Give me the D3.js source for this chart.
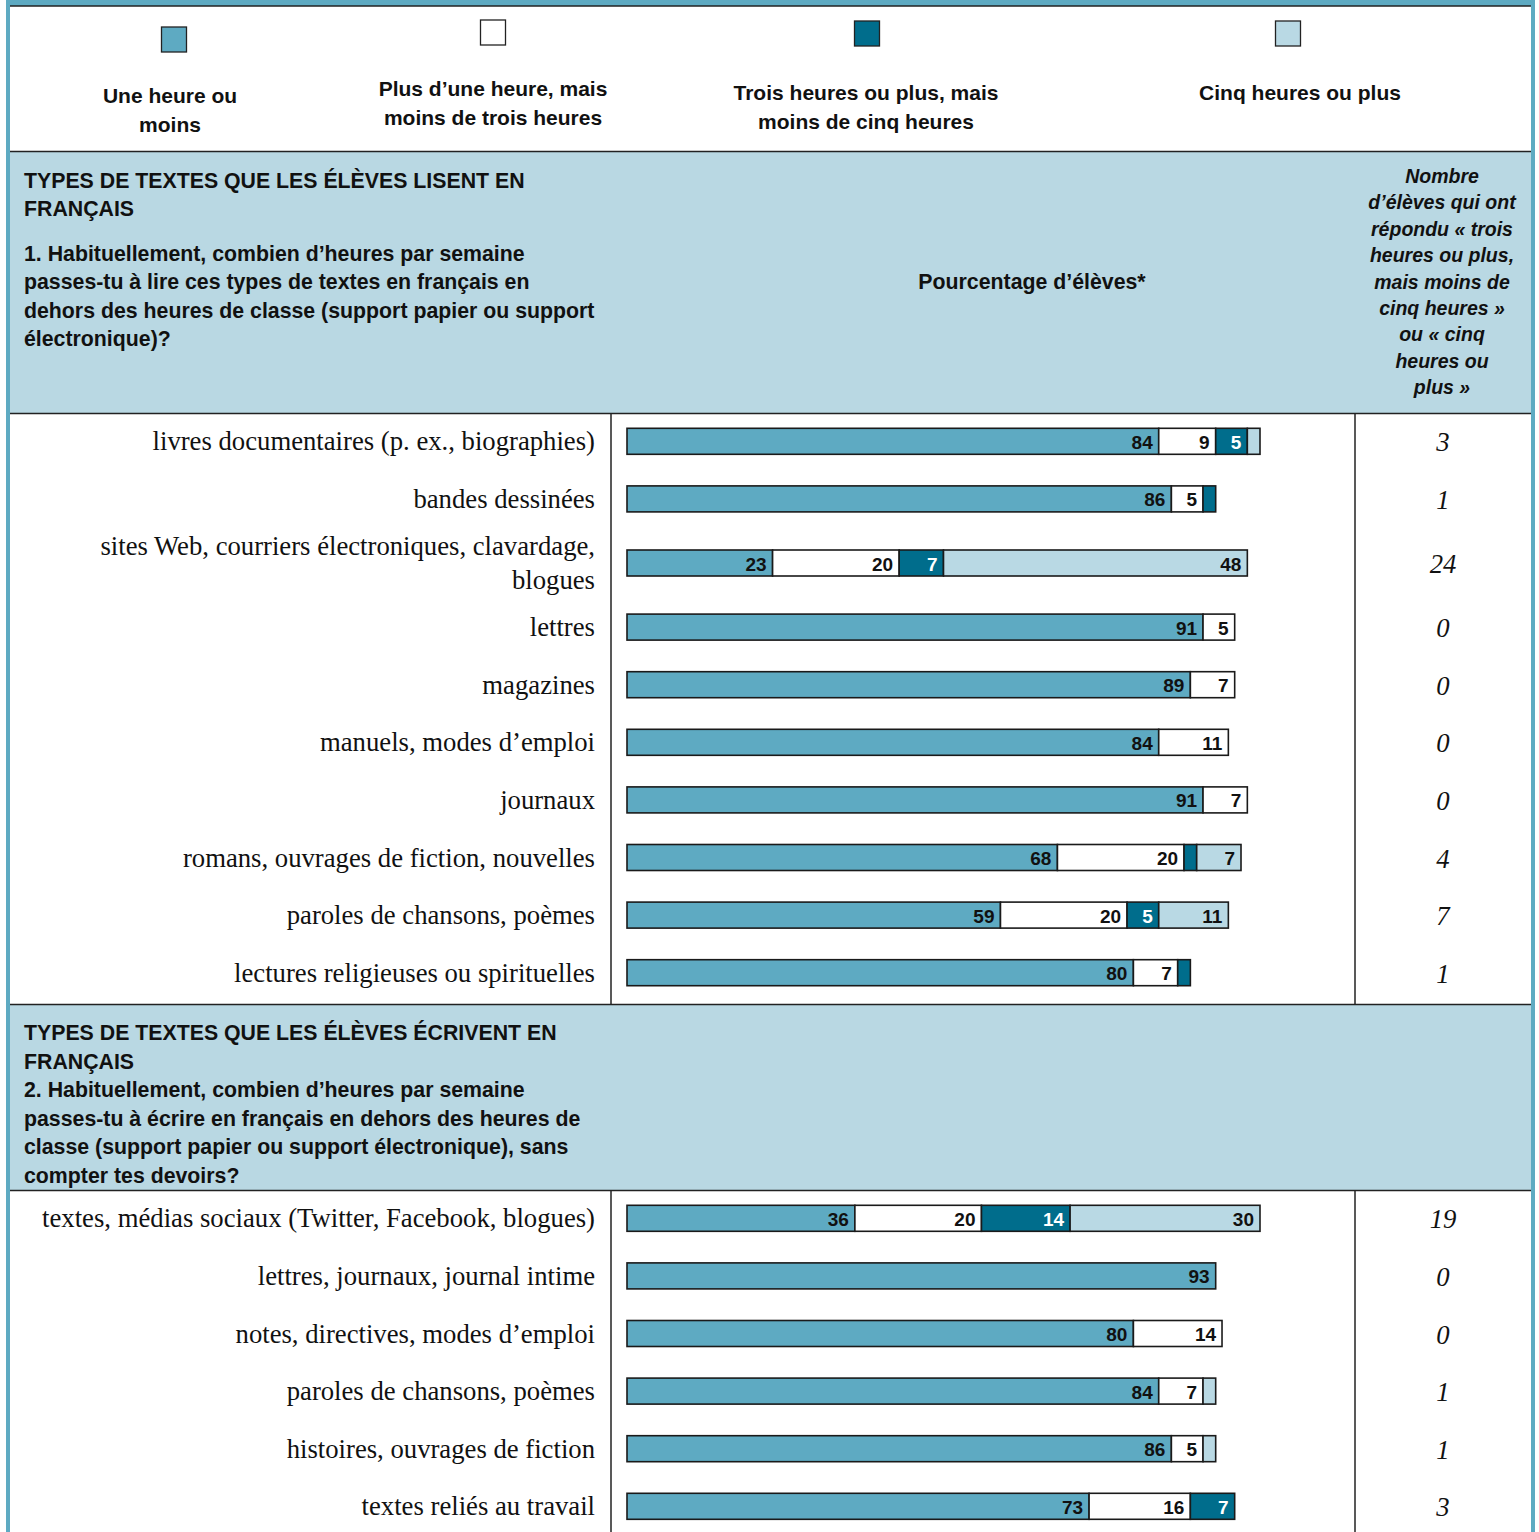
<!DOCTYPE html>
<html lang="fr">
<head>
<meta charset="utf-8">
<title>Types de textes lus et écrits en français</title>
<script src="https://cdn.jsdelivr.net/npm/d3@7"></script>
<style>
  html, body { margin: 0; padding: 0; background: #ffffff; }
  svg { display: block; }
  .sans { font-family: "Liberation Sans", Arial, sans-serif; }
  .serif { font-family: "Liberation Serif", "Times New Roman", serif; }
</style>
</head>
<body>
<svg id="chart" width="1539" height="1532"></svg>
<script>
// ---- Data ---------------------------------------------------------------
const seriesKeys = ["une", "plusUne", "trois", "cinq"];
const legendLabels = [
  ["Une heure ou", "moins"],
  ["Plus d\u2019une heure, mais", "moins de trois heures"],
  ["Trois heures ou plus, mais", "moins de cinq heures"],
  ["Cinq heures ou plus"]
];
const seriesColors = ["#5eaac2", "#ffffff", "#006d8c", "#b9d9e4"];
const labelColors = ["#111111", "#111111", "#ffffff", "#111111"];

const readingCategories = [
  ["livres documentaires (p. ex., biographies)"],
  ["bandes dessinées"],
  ["sites Web, courriers électroniques, clavardage,", "blogues"],
  ["lettres"],
  ["magazines"],
  ["manuels, modes d\u2019emploi"],
  ["journaux"],
  ["romans, ouvrages de fiction, nouvelles"],
  ["paroles de chansons, poèmes"],
  ["lectures religieuses ou spirituelles"]
];
const readingValues = [
  [84, 9, 5, 2],
  [86, 5, 2, 0],
  [23, 20, 7, 48],
  [91, 5, 0, 0],
  [89, 7, 0, 0],
  [84, 11, 0, 0],
  [91, 7, 0, 0],
  [68, 20, 2, 7],
  [59, 20, 5, 11],
  [80, 7, 2, 0]
];
const readingCounts = [3, 1, 24, 0, 0, 0, 0, 4, 7, 1];

const writingCategories = [
  ["textes, médias sociaux (Twitter, Facebook, blogues)"],
  ["lettres, journaux, journal intime"],
  ["notes, directives, modes d\u2019emploi"],
  ["paroles de chansons, poèmes"],
  ["histoires, ouvrages de fiction"],
  ["textes reliés au travail"]
];
const writingValues = [
  [36, 20, 14, 30],
  [93, 0, 0, 0],
  [80, 14, 0, 0],
  [84, 7, 0, 2],
  [86, 5, 0, 2],
  [73, 16, 7, 0]
];
const writingCounts = [19, 0, 0, 1, 1, 3];

const readingHeader = [
  "TYPES DE TEXTES QUE LES ÉLÈVES LISENT EN",
  "FRANÇAIS"
];
const readingQuestion = [
  "1. Habituellement, combien d\u2019heures par semaine",
  "passes-tu à lire ces types de textes en français en",
  "dehors des heures de classe (support papier ou support",
  "électronique)?"
];
const writingHeader = [
  "TYPES DE TEXTES QUE LES ÉLÈVES ÉCRIVENT EN",
  "FRANÇAIS",
  "2. Habituellement, combien d\u2019heures par semaine",
  "passes-tu à écrire en français en dehors des heures de",
  "classe (support papier ou support électronique), sans",
  "compter tes devoirs?"
];
const percentTitle = "Pourcentage d\u2019élèves*";
const countTitle = [
  "Nombre", "d\u2019élèves qui ont", "répondu « trois",
  "heures ou plus,", "mais moins de", "cinq heures »",
  "ou « cinq", "heures ou", "plus »"
];

// ---- Layout -------------------------------------------------------------
const W = 1539, H = 1532;
const frame = { left: 10, right: 1531, top: 6 };
const colLabelRight = 595, colDivider1 = 611, colDivider2 = 1355, countX = 1443;
const rowUnit = 57.6, extraLine = 13;
const band = { light: "#b9d8e3", frame: "#5eaac2", rule: "#222222" };
const headerFont = 21.3;

const svg = d3.select("#chart");

const x = d3.scaleLinear().domain([0, 100]).range([627, 1260]);
const barH = 26;

// outer frame
svg.append("rect").attr("x", 6).attr("y", 0).attr("width", 1529).attr("height", H)
  .attr("fill", band.frame);
svg.append("rect").attr("x", frame.left).attr("y", frame.top)
  .attr("width", frame.right - frame.left).attr("height", H - frame.top)
  .attr("fill", "#ffffff");
svg.append("line").attr("x1", frame.left).attr("x2", frame.right)
  .attr("y1", frame.top).attr("y2", frame.top)
  .attr("stroke", band.rule).attr("stroke-width", 1.5);

// ---- Legend ------------------------------------------------------------
const legendX = [174, 493, 867, 1288];
const legendLabelX = [170, 493, 866, 1300];
const legendSwatchY = [27, 20, 21, 21];
const legendTextY = [95, 88, 92, 92];
const legend = svg.append("g").attr("class", "sans");
seriesKeys.forEach((k, i) => {
  legend.append("rect")
    .attr("x", legendX[i] - 12.5).attr("y", legendSwatchY[i])
    .attr("width", 25).attr("height", 25)
    .attr("fill", seriesColors[i]).attr("stroke", "#222").attr("stroke-width", 1.3);
  const t = legend.append("text")
    .attr("x", legendLabelX[i]).attr("y", legendTextY[i])
    .attr("text-anchor", "middle").attr("dominant-baseline", "central")
    .attr("font-size", 21).attr("font-weight", "bold").attr("fill", "#111");
  legendLabels[i].forEach((line, j) => {
    t.append("tspan").attr("x", legendLabelX[i]).attr("dy", j === 0 ? 0 : 28.5).text(line);
  });
});

// ---- Section header bands -------------------------------------------------
function headerBand(y0, y1) {
  svg.append("rect").attr("x", frame.left).attr("y", y0)
    .attr("width", frame.right - frame.left).attr("height", y1 - y0)
    .attr("fill", band.light);
  [y0, y1].forEach(y => svg.append("line")
    .attr("x1", frame.left).attr("x2", frame.right).attr("y1", y).attr("y2", y)
    .attr("stroke", band.rule).attr("stroke-width", 1.5));
}
headerBand(151.5, 413.5);

const h1 = svg.append("g").attr("class", "sans")
  .attr("font-size", headerFont).attr("font-weight", "bold").attr("fill", "#111");
readingHeader.forEach((line, i) => h1.append("text")
  .attr("x", 24).attr("y", 181 + i * 28.3).attr("dominant-baseline", "central").text(line));
readingQuestion.forEach((line, i) => h1.append("text")
  .attr("x", 24).attr("y", 254 + i * 28.3).attr("dominant-baseline", "central").text(line));
h1.append("text").attr("x", 1032).attr("y", 282).attr("text-anchor", "middle")
  .attr("dominant-baseline", "central").text(percentTitle);
const ct = h1.append("text").attr("font-style", "italic").attr("font-size", 19.5)
  .attr("text-anchor", "middle");
countTitle.forEach((line, i) => ct.append("tspan")
  .attr("x", 1442).attr("y", 176 + i * 26.4).attr("dominant-baseline", "central").text(line));

// ---- Rows --------------------------------------------------------------
function drawSection(top, bottom, categories, values, counts) {
  // row bands: each extra label line adds height
  let cursor = top;
  const rows = categories.map((lines, i) => {
    const h = rowUnit + (lines.length - 1) * extraLine;
    const r = { lines, vals: values[i], count: counts[i], cy: cursor + h / 2 - 1.5 };
    cursor += h;
    return r;
  });

  [colDivider1, colDivider2].forEach(cx => svg.append("line")
    .attr("x1", cx).attr("x2", cx).attr("y1", top).attr("y2", bottom)
    .attr("stroke", band.rule).attr("stroke-width", 1.5));

  const g = svg.append("g");
  const row = g.selectAll("g.row").data(rows).join("g").attr("class", "row");

  // category labels
  row.append("text").attr("class", "serif")
    .attr("text-anchor", "end").attr("font-size", 26.7).attr("fill", "#111")
    .each(function (d) {
      const n = d.lines.length;
      d.lines.forEach((line, j) => d3.select(this).append("tspan")
        .attr("x", colLabelRight)
        .attr("y", d.cy + (j - (n - 1) / 2) * 34)
        .attr("dominant-baseline", "central").text(line));
    });

  // stacked segments
  const seg = row.selectAll("g.seg")
    .data(d => {
      let acc = 0;
      return d.vals.map((v, k) => {
        const s = { k, v, x0: acc, x1: acc + v, cy: d.cy };
        acc += v;
        return s;
      }).filter(s => s.v > 0);
    })
    .join("g").attr("class", "seg");

  seg.append("rect")
    .attr("x", s => x(s.x0)).attr("width", s => x(s.x1) - x(s.x0))
    .attr("y", s => s.cy - barH / 2).attr("height", barH)
    .attr("fill", s => seriesColors[s.k])
    .attr("stroke", "#1a1a1a").attr("stroke-width", 1.6);

  seg.filter(s => s.v >= 5).append("text").attr("class", "sans")
    .attr("x", s => x(s.x1) - 6).attr("y", s => s.cy + 1)
    .attr("text-anchor", "end").attr("dominant-baseline", "central")
    .attr("font-size", 19).attr("font-weight", "bold")
    .attr("fill", s => labelColors[s.k])
    .text(s => s.v);

  // count column
  row.append("text").attr("class", "serif")
    .attr("x", countX).attr("y", d => d.cy + 1)
    .attr("text-anchor", "middle").attr("dominant-baseline", "central")
    .attr("font-size", 26.7).attr("font-style", "italic").attr("fill", "#111")
    .text(d => d.count);
}

drawSection(414, 1004, readingCategories, readingValues, readingCounts);

headerBand(1004.5, 1190.5);
const h2 = svg.append("g").attr("class", "sans")
  .attr("font-size", headerFont).attr("font-weight", "bold").attr("fill", "#111");
writingHeader.forEach((line, i) => h2.append("text")
  .attr("x", 24).attr("y", 1033 + i * 28.5).attr("dominant-baseline", "central").text(line));

drawSection(1191, H, writingCategories, writingValues, writingCounts);
</script>
</body>
</html>
